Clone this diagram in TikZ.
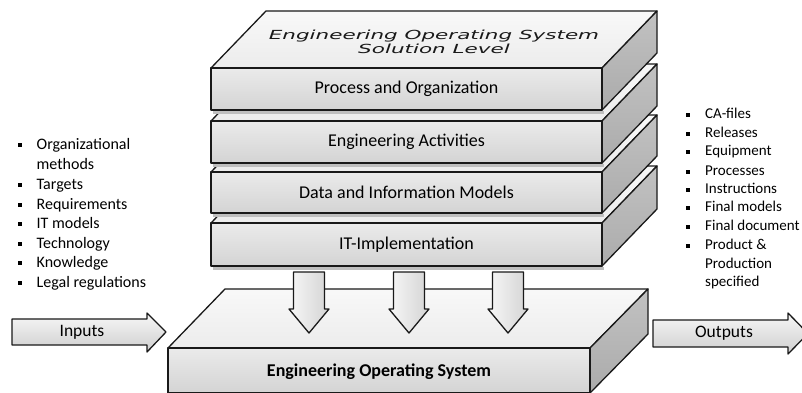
\documentclass[tikz,border=0pt]{standalone}
\usepackage{fontspec}
\setmainfont{Carlito}
\newfontfamily\deco{DejaVu Sans}
\tikzset{
  x=1pt,y=-1pt,
  edge/.style={draw=black!90,line width=1.3pt,line join=round},
  frontface/.style={edge,top color=gray!16,bottom color=gray!34},
  sideface/.style={edge,top color=gray!48,bottom color=gray!66},
  topface/.style={edge,top color=gray!5,bottom color=gray!15},
  blockarrow/.style={edge,top color=gray!6,bottom color=gray!38},
  downarrow/.style={edge,left color=gray!6,right color=gray!34},
  label/.style={font=\fontsize{18}{21}\selectfont,text=black},
  item/.style={anchor=base west,inner sep=0pt,text=black},
  bul/.style={fill=black,draw=none}
}
\begin{document}
\begin{tikzpicture}
\useasboundingbox (0,0) rectangle (802,392);
\fill[white] (0,0) rectangle (802,392);
% ---------- bottom slab ----------
\path[topface] (168,348) -- (225,289) -- (648,289) -- (590,348) -- cycle;
\path[sideface] (590,348) -- (648,289) -- (648,334) -- (590,393) -- cycle;
\path[frontface] (168,348) rectangle (590,393);
\node[label,font=\fontsize{18}{21}\selectfont\bfseries] (eos) at (379,372) {Engineering Operating System};
% ---------- down arrows ----------
\foreach \cx/\nm in {309/d1,409/d2,508/d3}{
  \path[downarrow] (\cx-15.5,272) -- (\cx+15.5,272) -- (\cx+15.5,309) -- (\cx+20,309) -- (\cx,333) -- (\cx-20,309) -- (\cx-15.5,309) -- cycle;
  \coordinate (\nm) at (\cx,333);
}
% ---------- stacked slabs (bottom to top) ----------
\foreach \T/\B/\txt/\nm in {223/266/IT-Implementation/s4,172/213/Data and Information Models/s3,121/163/Engineering Activities/s2,68/110/Process and Organization/s1}{
  \fill[black!25] (213,\B+1) rectangle (604,\B+4);
  \path[topface] (211,\T) -- (266,\T-57) -- (657,\T-57) -- (602,\T) -- cycle;
  \path[sideface] (602,\T) -- (657,\T-57) -- (657,\B-57) -- (602,\B) -- cycle;
  \path[frontface] (211,\T) rectangle (602,\B);
  \node[label] (\nm) at (406.5,{(\T+\B)/2}) {\txt};
}
\node[align=center,font=\deco\itshape\fontsize{12.5}{14}\selectfont,xscale=1.72,text=black!90] (sol) at (434,42) {Engineering Operating System\\Solution Level};
% ---------- inputs / outputs ----------
\path[blockarrow] (12,319) -- (147,319) -- (147,313) -- (166,332) -- (147,352) -- (147,345) -- (12,345) -- cycle;
\node[font=\fontsize{17.5}{20}\selectfont,text=black] (in) at (82,332) {Inputs};
\path[blockarrow] (653,320) -- (788,320) -- (788,313) -- (808,333.5) -- (788,354) -- (788,347) -- (653,347) -- cycle;
\node[font=\fontsize{17.5}{20}\selectfont,text=black] (out) at (724,333.5) {Outputs};
% ---------- left list ----------
\foreach \yy/\txt/\b [count=\i] in {145/Organizational/1,165/methods/0,185/Targets/1,205/Requirements/1,224/IT models/1,244/Technology/1,263/Knowledge/1,283/Legal regulations/1}{
  \node[item,font=\fontsize{16}{19}\selectfont] (l\i) at (36.5,\yy+4) {\txt};
  \ifnum\b=1 \fill[bul] (18.2,\yy-1.8) rectangle (22,\yy+2); \fi
}
% ---------- right list ----------
\foreach \yy/\txt/\b [count=\i] in {115/CA-files/1,134/Releases/1,152/Equipment/1,172/Processes/1,190/Instructions/1,208/Final models/1,227/Final document/1,246/Product \&/1,265/Production/0,283/specified/0}{
  \node[item,font=\fontsize{15}{18}\selectfont] (r\i) at (705,\yy+3.7) {\txt};
  \ifnum\b=1 \fill[bul] (686.2,\yy-1.8) rectangle (690,\yy+2); \fi
}
\end{tikzpicture}
\end{document}
